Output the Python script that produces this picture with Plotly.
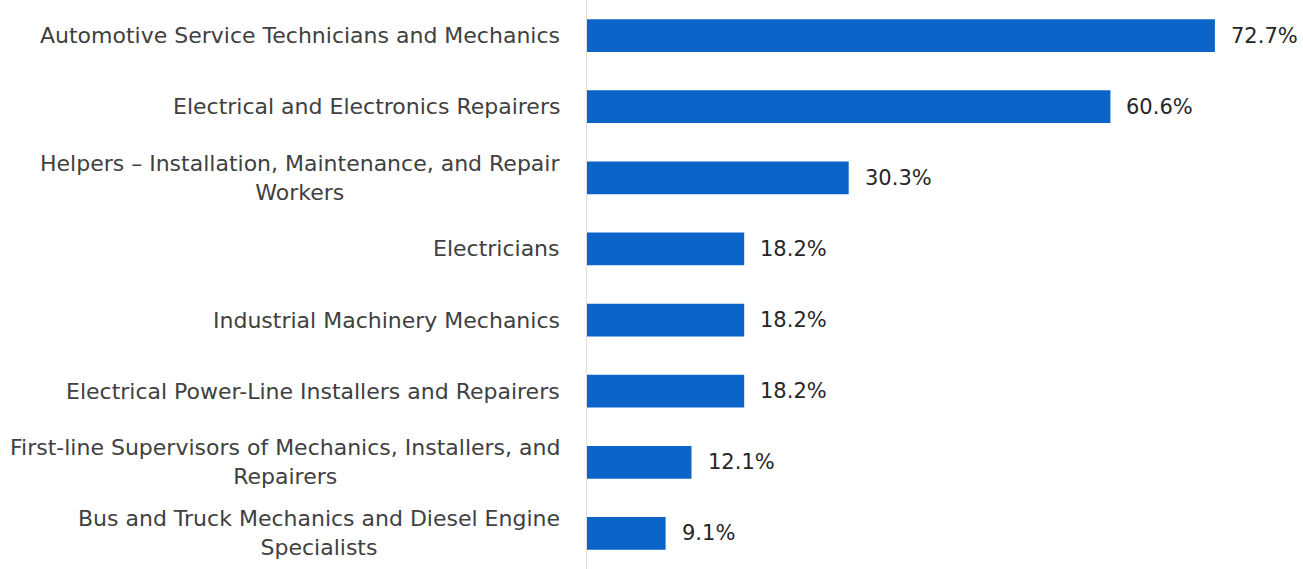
import plotly.graph_objects as go

# Occupations and share of respondents (%)
categories = [
    "Automotive Service Technicians and Mechanics",
    "Electrical and Electronics Repairers",
    "Helpers \u2013 Installation, Maintenance, and Repair<br>Workers",
    "Electricians",
    "Industrial Machinery Mechanics",
    "Electrical Power-Line Installers and Repairers",
    "First-line Supervisors of Mechanics, Installers, and<br>Repairers",
    "Bus and Truck Mechanics and Diesel Engine<br>Specialists",
]
values = [72.7, 60.6, 30.3, 18.2, 18.2, 18.2, 12.1, 9.1]

FONT = "DejaVu Sans"
TEXT_COLOR = "#404040"
BAR_COLOR = "#0B65C8"

positions = list(range(len(categories)))

fig = go.Figure(
    go.Bar(
        x=values,
        y=positions,
        orientation="h",
        marker=dict(color=BAR_COLOR, line=dict(width=0)),
        width=0.46,
        hoverinfo="skip",
    )
)

annotations = []
for pos, cat, val in zip(positions, categories, values):
    # category label, lines centred on each other, right edge left of the axis
    annotations.append(dict(
        x=0, xref="paper", y=pos, yref="y",
        text=cat, showarrow=False, xanchor="right", yanchor="middle",
        align="center", xshift=-25,
        font=dict(family=FONT, size=22, color=TEXT_COLOR),
    ))
    # value label after the bar end
    annotations.append(dict(
        x=val, xref="x", y=pos, yref="y",
        text=f"{val:.1f}%", showarrow=False, xanchor="left", yanchor="middle",
        xshift=14,
        font=dict(family=FONT, size=21, color="#262626"),
    ))

fig.update_layout(
    width=1303, height=569,
    margin=dict(l=587, r=0, t=0, b=0),
    paper_bgcolor="white", plot_bgcolor="white",
    showlegend=False,
    annotations=annotations,
    xaxis=dict(range=[0, 82.9], visible=False, fixedrange=True),
    yaxis=dict(
        range=[len(categories) - 0.5, -0.5],
        showticklabels=False, showgrid=False, zeroline=False,
        showline=True, linecolor="#e0e0e0", linewidth=1,
        fixedrange=True,
    ),
)

fig.write_html("out.html")
